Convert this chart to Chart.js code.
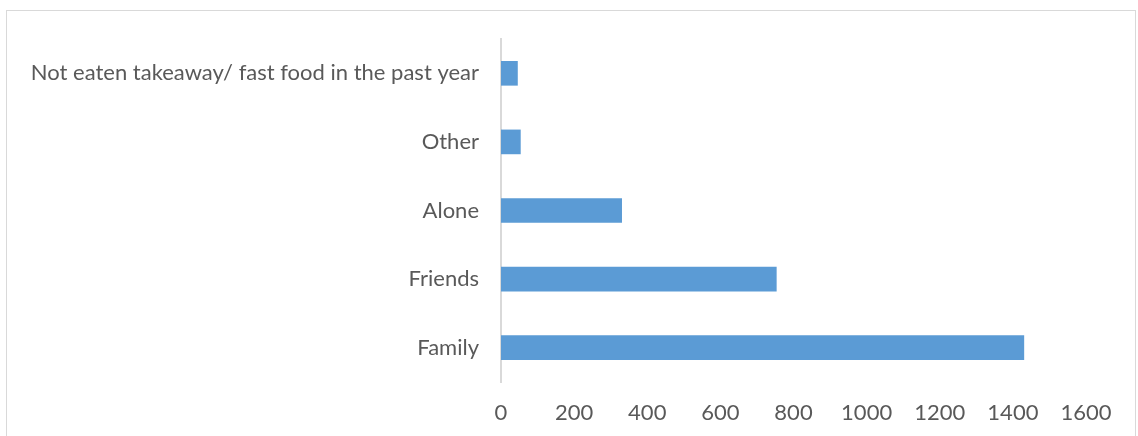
<!DOCTYPE html>
<html>
<head>
<meta charset="utf-8">
<script src="https://cdn.jsdelivr.net/npm/chart.js@4"></script>
<style>
  html, body { margin: 0; padding: 0; background: #fff; }
  #frame {
    position: absolute; left: 6px; top: 10px;
    width: 1130px; height: 440px;
    border: 1px solid #d9d9d9; box-sizing: border-box;
  }
  #wrap { position: absolute; left: 0; top: 0; width: 1138px; height: 436px; }
</style>
</head>
<body>
<div id="frame"></div>
<div id="wrap"><canvas id="barchart"></canvas></div>
<script>
// who people eat takeaway / fast food with
var categories = ["Not eaten takeaway/ fast food in the past year", "Other", "Alone", "Friends", "Family"];
var counts = [45, 53, 330, 753, 1430];
var xTicks = [0, 200, 400, 600, 800, 1000, 1200, 1400, 1600];

Chart.defaults.font.family = "Lato, 'Open Sans', sans-serif";
Chart.defaults.color = "#595959";

var ctx = document.getElementById("barchart");
var barChart = new Chart(ctx, {
    type: 'bar',
    data: {
        labels: categories,
        datasets: [{
            data: counts,
            backgroundColor: "#5b9bd5",
            borderWidth: 0,
            barThickness: 24
        }]
    },
    options: {
        indexAxis: 'y',
        responsive: true,
        maintainAspectRatio: false,
        animation: false,
        layout: {
            padding: { top: 39, right: 52, bottom: 0, left: 0 }
        },
        plugins: {
            legend: { display: false },
            tooltip: { enabled: false }
        },
        scales: {
            x: {
                min: xTicks[0],
                max: xTicks[xTicks.length - 1],
                afterBuildTicks: function (scale) {
                    scale.ticks = xTicks.map(function (v) { return { value: v }; });
                },
                grid: { display: false, drawTicks: false },
                border: { display: false },
                ticks: {
                    font: { size: 22 },
                    padding: 18,
                    maxRotation: 0,
                    callback: function (value) { return String(value); }
                },
                afterFit: function (scale) { scale.height = 54; }
            },
            y: {
                grid: { display: false, drawTicks: false },
                border: { display: true, color: "#d9d9d9", width: 2 },
                ticks: { font: { size: 22 }, padding: 22 },
                afterFit: function (scale) { scale.width = 501; }
            }
        }
    }
});
</script>
</body>
</html>
